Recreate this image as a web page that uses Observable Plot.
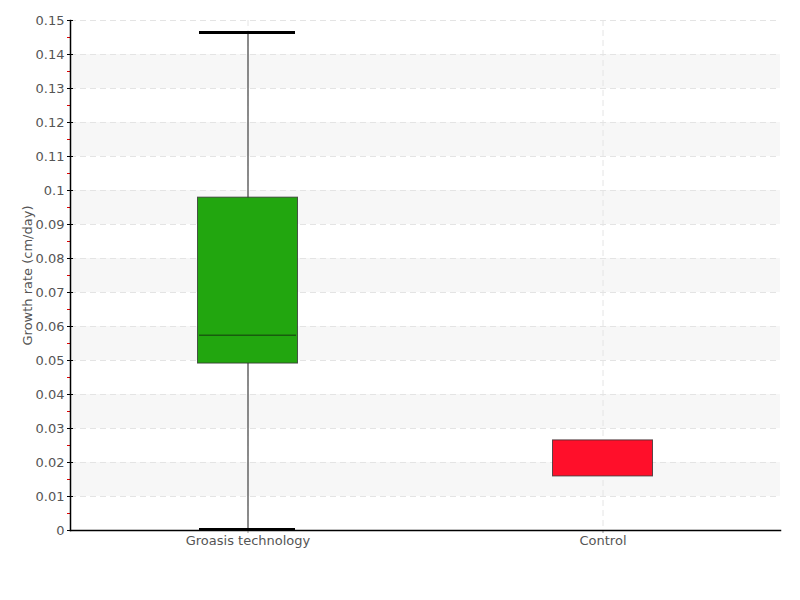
<!DOCTYPE html>
<html>
<head>
<meta charset="utf-8">
<script src="https://cdn.jsdelivr.net/npm/d3@7"></script>
<script src="https://cdn.jsdelivr.net/npm/@observablehq/plot@0.6"></script>
<style>
  html, body { margin: 0; padding: 0; background: #fff; }
  #chart svg { display: block; }
</style>
</head>
<body>
<div id="chart"></div>
<script>
// ---- data ----
const categories = ["Groasis technology", "Control"];
const q1 = [0.0491, 0.0159];
const median = [0.0574, 0.0159];
const q3 = [0.0979, 0.0265];
const whiskerLow = [0.0003, 0.0159];
const whiskerHigh = [0.1465, 0.0265];
const boxColors = ["#22a60f", "#ff0f2a"];
const yTicks = [0, 0.01, 0.02, 0.03, 0.04, 0.05, 0.06, 0.07, 0.08, 0.09, 0.1, 0.11, 0.12, 0.13, 0.14, 0.15];
const yMinorTicks = [0.005, 0.015, 0.025, 0.035, 0.045, 0.055, 0.065, 0.075, 0.085, 0.095, 0.105, 0.115, 0.125, 0.135, 0.145];
const bandLows = [0.01, 0.03, 0.05, 0.07, 0.09, 0.11, 0.13];
const yLabel = "Growth rate (cm/day)";

const boxes = categories.map((c, i) => ({
  cat: c, q1: q1[i], med: median[i], q3: q3[i],
  lo: whiskerLow[i], hi: whiskerHigh[i], color: boxColors[i]
}));
const whiskered = boxes.filter(d => d.hi > d.q3 || d.lo < d.q1);
const bands = bandLows.map(v => ({lo: v, hi: +(v + 0.01).toFixed(2)}));

const font = '"DejaVu Sans", sans-serif';

const chart = Plot.plot({
  width: 800,
  height: 600,
  marginLeft: 70,
  marginRight: 20,
  marginTop: 20,
  marginBottom: 70,
  style: {fontFamily: font, fontSize: "13px", color: "#555", background: "#fff"},
  x: {type: "band", domain: categories, padding: 0, axis: null},
  y: {domain: [0, 0.15], axis: null},
  marks: [
    Plot.rect(bands, {y1: "lo", y2: "hi", fill: "#f7f7f7"}),
    Plot.ruleY(yTicks, {stroke: "#e4e4e4", strokeDasharray: "6,4"}),
    Plot.ruleX(categories, {x: d => d, stroke: "#e4e4e4", strokeDasharray: "6,4"}),
    Plot.ruleX(whiskered, {x: "cat", y1: "lo", y2: "hi", stroke: "#666", strokeWidth: 1.5}),
    Plot.tickY(whiskered, {x: "cat", y: "hi", stroke: "#000", strokeWidth: 3, insetLeft: 129, insetRight: 130}),
    Plot.tickY(whiskered, {x: "cat", y: "lo", stroke: "#000", strokeWidth: 3, insetLeft: 129, insetRight: 130}),
    Plot.barY(boxes, {x: "cat", y1: "q1", y2: "q3", fill: "color", stroke: "#333", strokeOpacity: 0.8, insetLeft: 127.5, insetRight: 127.5}),
    Plot.tickY(whiskered, {x: "cat", y: "med", stroke: "#185c0e", strokeWidth: 1.5, insetLeft: 129, insetRight: 129}),
    Plot.axisY(yMinorTicks, {anchor: "left", tickSize: 3, stroke: "#e00000", text: null}),
    Plot.axisY(yTicks, {anchor: "left", tickSize: 6, dx: 3, stroke: "#000", text: null}),
    Plot.axisY(yTicks, {anchor: "left", tickSize: 0, tickPadding: 6, label: null,
      tickFormat: d => String(+d.toFixed(2)), fill: "#555", fontSize: 13}),
    Plot.axisX(categories, {anchor: "bottom", tickSize: 3, stroke: "#999", tickPadding: 2, label: null, fill: "#555", fontSize: 13}),
    Plot.frame({anchor: "left", stroke: "#000", strokeWidth: 1.5}),
    Plot.frame({anchor: "bottom", stroke: "#000", strokeWidth: 1.5}),
    Plot.text([yLabel], {frameAnchor: "left", rotate: -90, dx: -43, textAnchor: "middle", fill: "#555", fontSize: 13})
  ]
});
document.getElementById("chart").appendChild(chart);
</script>
</body>
</html>
